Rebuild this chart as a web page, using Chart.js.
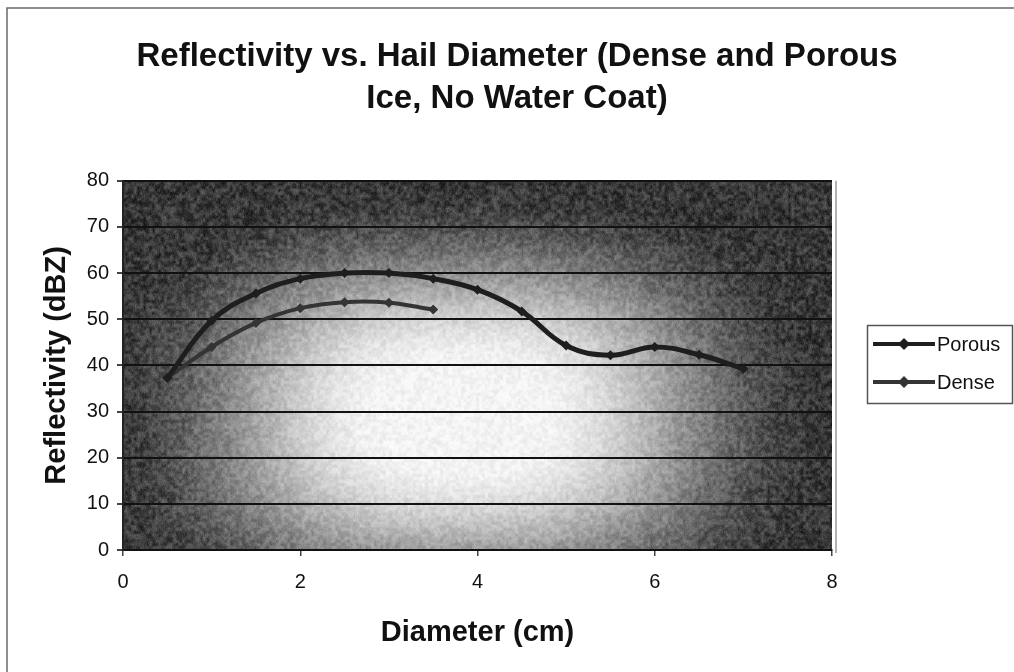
<!DOCTYPE html>
<html>
<head>
<meta charset="utf-8">
<title>Reflectivity vs. Hail Diameter</title>
<script src="https://cdn.jsdelivr.net/npm/chart.js@4.4.1/dist/chart.umd.min.js"></script>
<style>
    html, body { margin: 0; padding: 0; background: #ffffff; }
    canvas { display: block; }
</style>
</head>
<body>
<canvas id="hailChart" width="1014" height="672"></canvas>
<script>
// Hail diameter (cm) and modelled reflectivity (dBZ)
const diameters = [0.5, 1, 1.5, 2, 2.5, 3, 3.5, 4, 4.5, 5, 5.5, 6, 6.5, 7];
const porousDbz = [37.3, 49.7, 55.6, 58.8, 60.0, 60.0, 58.8, 56.4, 51.7, 44.3, 42.2, 44.0, 42.3, 39.3];
const denseDbz  = [37.3, 44.0, 49.2, 52.4, 53.7, 53.6, 52.1];
const seriesNames = ['Porous', 'Dense'];
const titleLines = ['Reflectivity vs. Hail Diameter (Dense and Porous', 'Ice, No Water Coat)'];

const FONT = "'Liberation Sans', Arial, Helvetica, sans-serif";

function toPoints(xs, ys) {
    return ys.map((y, i) => ({ x: xs[i], y: y }));
}

// small seeded generator so the plot texture is the same on every load
function mulberry32(a) {
    return function() {
        a |= 0; a = a + 0x6D2B79F5 | 0;
        let t = Math.imul(a ^ a >>> 15, 1 | a);
        t = t + Math.imul(t ^ t >>> 7, 61 | t) ^ t;
        return ((t ^ t >>> 14) >>> 0) / 4294967296;
    };
}

let plotTexture = null;

// grey "from centre" gradient with grain, filling the chart area
function buildTexture(area) {
    const w = Math.round(area.right - area.left);
    const h = Math.round(area.bottom - area.top);
    const c = document.createElement('canvas');
    c.width = w; c.height = h;
    const g = c.getContext('2d');
    const img = g.createImageData(w, h);
    const rand = mulberry32(20240613);

    // coarse value noise grid for mottling
    const cell = 3;
    const gw = Math.ceil(w / cell) + 2, gh = Math.ceil(h / cell) + 2;
    const grid = new Float32Array(gw * gh);
    for (let i = 0; i < grid.length; i++) grid[i] = rand() - 0.5;

    const cx = 460 - area.left, cy = 415 - area.top;
    const rx = 340, ry = 215;
    for (let y = 0; y < h; y++) {
        for (let x = 0; x < w; x++) {
            const dx = Math.abs((x - cx) / rx), dy = Math.abs((y - cy) / ry);
            const d = Math.pow(Math.pow(dx, 2.6) + Math.pow(dy, 2.6), 1 / 2.6);
            let t = Math.min(Math.max((d - 0.22) / 0.85, 0), 1);
            t = t * t * (3 - 2 * t);
            let b = 244 - 188 * t;
            const gx = Math.floor(x / cell), gy = Math.floor(y / cell);
            const fx = (x % cell) / cell, fy = (y % cell) / cell;
            const n00 = grid[gy * gw + gx], n10 = grid[gy * gw + gx + 1];
            const n01 = grid[(gy + 1) * gw + gx], n11 = grid[(gy + 1) * gw + gx + 1];
            const n = (n00 * (1 - fx) + n10 * fx) * (1 - fy) + (n01 * (1 - fx) + n11 * fx) * fy;
            const amp = 22 + 40 * t;
            b += n * amp + (rand() - 0.5) * (10 + 20 * t);
            b = Math.max(20, Math.min(250, b));
            const k = (y * w + x) * 4;
            img.data[k] = b; img.data[k + 1] = b; img.data[k + 2] = b; img.data[k + 3] = 255;
        }
    }
    g.putImageData(img, 0, 0);
    return c;
}

const plotBackground = {
    id: 'plotBackground',
    beforeDraw(chart) {
        const { ctx, chartArea: a } = chart;
        if (!plotTexture) plotTexture = buildTexture(a);
        ctx.save();
        ctx.drawImage(plotTexture, a.left, a.top);
        // thin light edge to the right of the plot
        ctx.strokeStyle = '#9a9a9a';
        ctx.lineWidth = 1.5;
        ctx.beginPath();
        ctx.moveTo(a.right + 4, a.top);
        ctx.lineTo(a.right + 4, a.bottom + 3);
        ctx.stroke();
        ctx.restore();
    }
};

// framed legend box at the right, drawn from the dataset styles
const boxedLegend = {
    id: 'boxedLegend',
    afterDraw(chart) {
        const { ctx } = chart;
        ctx.save();
        ctx.strokeStyle = '#555';
        ctx.lineWidth = 1.5;
        ctx.strokeRect(867.5, 325.5, 145, 78);
        chart.data.datasets.forEach((ds, i) => {
            const y = 344 + i * 38;
            ctx.strokeStyle = ds.borderColor;
            ctx.lineWidth = 4;
            ctx.beginPath();
            ctx.moveTo(873, y);
            ctx.lineTo(935, y);
            ctx.stroke();
            ctx.fillStyle = ds.borderColor;
            ctx.beginPath();
            ctx.moveTo(904, y - 6);
            ctx.lineTo(910, y);
            ctx.lineTo(904, y + 6);
            ctx.lineTo(898, y);
            ctx.closePath();
            ctx.fill();
            ctx.fillStyle = '#111';
            ctx.font = '20px ' + FONT;
            ctx.textBaseline = 'middle';
            ctx.fillText(ds.label, 937, y + 1);
        });
        // outer frame of the figure
        ctx.strokeStyle = '#6a6a6a';
        ctx.lineWidth = 1.5;
        ctx.beginPath();
        ctx.moveTo(1014, 8);
        ctx.lineTo(7, 8);
        ctx.lineTo(7, 672);
        ctx.stroke();
        ctx.restore();
    }
};

function initHailChart() {
    const ctx = document.getElementById('hailChart');

    const data = {
        datasets: [{
            label: seriesNames[0],
            data: toPoints(diameters, porousDbz),
            borderColor: '#1e1e1e',
            backgroundColor: '#1e1e1e',
            borderWidth: 5,
            tension: 0.4,
            pointStyle: 'rectRot',
            pointRadius: 5,
            pointBorderWidth: 0
        }, {
            label: seriesNames[1],
            data: toPoints(diameters, denseDbz),
            borderColor: '#343434',
            backgroundColor: '#343434',
            borderWidth: 4,
            tension: 0.4,
            pointStyle: 'rectRot',
            pointRadius: 5,
            pointBorderWidth: 0
        }]
    };

    const config = {
        type: 'line',
        data: data,
        options: {
            responsive: false,
            animation: false,
            devicePixelRatio: 1,
            layout: { padding: { left: 20, right: 0, top: 0, bottom: 0 } },
            plugins: {
                legend: { display: false },
                tooltip: { enabled: false },
                title: {
                    display: true,
                    text: titleLines,
                    color: '#111',
                    font: { family: FONT, size: 33, weight: 'bold', lineHeight: 1.3 },
                    padding: { top: 35, bottom: 60 }
                }
            },
            scales: {
                x: {
                    type: 'linear',
                    min: 0,
                    max: 8,
                    afterFit: (scale) => { scale.height = 122; },
                    ticks: {
                        stepSize: 2,
                        color: '#111',
                        padding: 14,
                        font: { family: FONT, size: 20 }
                    },
                    grid: {
                        drawOnChartArea: false,
                        drawTicks: true,
                        tickLength: 6,
                        color: '#444',
                        lineWidth: 1.5
                    },
                    border: { color: '#111', width: 2 },
                    title: {
                        display: true,
                        text: 'Diameter (cm)',
                        color: '#111',
                        font: { family: FONT, size: 29, weight: 'bold', lineHeight: 1.2 },
                        padding: { top: 0, bottom: 22 }
                    }
                },
                y: {
                    min: 0,
                    max: 80,
                    afterFit: (scale) => { scale.width = 103; },
                    ticks: {
                        stepSize: 10,
                        color: '#111',
                        padding: 8,
                        font: { family: FONT, size: 20 }
                    },
                    grid: {
                        color: '#111',
                        lineWidth: 2,
                        tickLength: 6,
                        tickColor: '#444'
                    },
                    border: { color: '#222', width: 2 },
                    title: {
                        display: true,
                        text: 'Reflectivity (dBZ)',
                        color: '#111',
                        font: { family: FONT, size: 29, weight: 'bold', lineHeight: 1.2 },
                        padding: { top: 20, bottom: 0 }
                    }
                },
                // empty right-hand axis that reserves room for the legend box
                legendSpace: {
                    position: 'right',
                    min: 0,
                    max: 80,
                    afterFit: (scale) => { scale.width = 182; },
                    ticks: { display: false },
                    grid: { display: false },
                    border: { display: false }
                }
            }
        },
        plugins: [plotBackground, boxedLegend]
    };

    return new Chart(ctx, config);
}

initHailChart();
</script>
</body>
</html>
